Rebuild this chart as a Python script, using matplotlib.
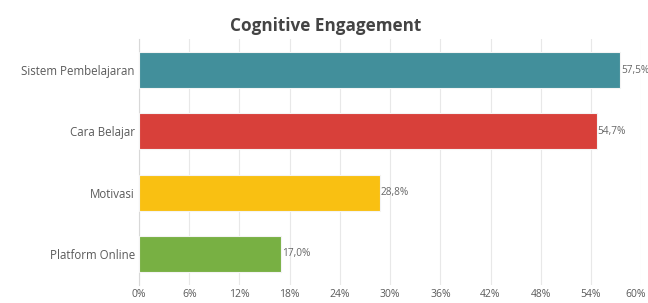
import matplotlib
matplotlib.use("Agg")
import matplotlib.pyplot as plt
import matplotlib.transforms as mtransforms
import numpy as np

categories = ["Sistem Pembelajaran", "Cara Belajar", "Motivasi", "Platform Online"]
values = [57.5, 54.7, 28.8, 17.0]
colors = ["#428f9b", "#d8403a", "#f9c012", "#78b043"]
xticks = [0, 6, 12, 18, 24, 30, 36, 42, 48, 54, 60]

plt.rcParams['font.family'] = ['Open Sans', 'DejaVu Sans']

fig = plt.figure(figsize=(6.48, 3.03), dpi=100)
ax = fig.add_axes([0.2145, 0.061, 0.775, 0.809])

y = np.arange(len(categories))
ax.barh(y, values, height=0.59, color=colors, edgecolor="#f4f4f4", linewidth=0.8, zorder=3)

for yi, v in zip(y, values):
    ax.text(v + 0.1, yi, f"{v:.1f}%".replace(".", ","), va="center", ha="left",
            fontsize=7.3, color="#666666", zorder=4, clip_on=False)

ax.set_ylim(3.5, -0.5)
ax.set_xlim(0, 60)
ax.set_yticks(y)
ax.set_yticklabels(categories, fontsize=8.3, color="#5a5a5a")
ax.set_xticks(xticks)
ax.set_xticklabels([f"{t}%" for t in xticks], fontsize=7.5, color="#5a5a5a")
ax.tick_params(axis="both", length=0, pad=3)
# keep the last tick label inside the figure
last = ax.get_xticklabels()[-1]
last.set_transform(last.get_transform() + mtransforms.ScaledTranslation(-4 / 72, 0, fig.dpi_scale_trans))
ax.grid(axis="x", color="#e8e8e8", linewidth=0.8, zorder=0)
for s in ["top", "right", "bottom"]:
    ax.spines[s].set_visible(False)
ax.spines["left"].set_color("#d8d8d8")
ax.spines["left"].set_linewidth(0.8)

fig.text(0.502, 0.915, "Cognitive Engagement", ha="center", va="center",
         fontsize=12.3, fontweight="bold", color="#444444")

fig.savefig("out.png", dpi=100)
